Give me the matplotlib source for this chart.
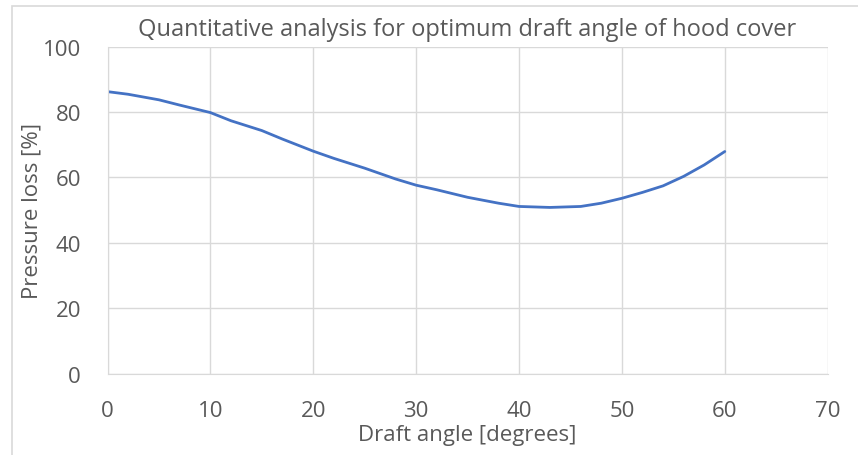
import numpy as np
import matplotlib
matplotlib.use("Agg")
import matplotlib.pyplot as plt
from matplotlib.patches import Rectangle

# values
angle = [0, 2, 5, 7, 10, 12, 15, 17, 20, 22, 25, 28, 30, 32, 35, 38, 40,
         43, 46, 48, 50, 52, 54, 56, 58, 60]
loss = [86.2, 85.4, 83.7, 82.1, 79.8, 77.3, 74.3, 71.7, 68.0, 65.8, 62.8,
        59.5, 57.6, 56.2, 53.9, 52.1, 51.1, 50.8, 51.1, 52.1, 53.6, 55.4,
        57.4, 60.3, 63.8, 67.9]

title = "Quantitative analysis for optimum draft angle of hood cover"
xlabel = "Draft angle [degrees]"
ylabel = "Pressure loss [%]"

txt = "#595959"
grid = "#d9d9d9"
plt.rcParams['font.family'] = ['Open Sans', 'DejaVu Sans']

W, H = 858, 456
fig = plt.figure(figsize=(W / 100, H / 100), dpi=100)
fig.patch.set_facecolor("white")

# outer frame of the chart box (left and top edges visible)
fig.patches.append(Rectangle((12 / W, -0.05), 1.2, (H - 7.3) / H + 0.05,
                             transform=fig.transFigure, fill=False,
                             edgecolor=grid, linewidth=1.2))

L, R, T, B = 107.5, 827.7, 47.5, 374.6
ax = fig.add_axes([L / W, 1 - B / H, (R - L) / W, (B - T) / H])

ax.plot(angle, loss, color="#4472C4", linewidth=2.0, solid_capstyle="round")

ax.set_xlim(0, 70)
ax.set_ylim(0, 100)
ax.set_xticks(np.arange(0, 71, 10))
ax.set_yticks(np.arange(0, 101, 20))
ax.grid(True, color=grid, linewidth=1.0)
ax.set_axisbelow(True)
for s in ax.spines.values():
    s.set_visible(False)
ax.spines["left"].set_visible(True)
ax.spines["left"].set_color(grid)
ax.spines["bottom"].set_visible(True)
ax.spines["bottom"].set_color(grid)
ax.tick_params(length=0, labelsize=16, labelcolor=txt)
ax.tick_params(axis="x", pad=19)
ax.tick_params(axis="y", pad=19)

ax.set_title(title, fontsize=17, color=txt, pad=8)
ax.set_xlabel(xlabel, fontsize=16, color=txt, labelpad=2)
ax.set_ylabel(ylabel, fontsize=16, color=txt, labelpad=0)

plt.savefig("out.png", dpi=100)
